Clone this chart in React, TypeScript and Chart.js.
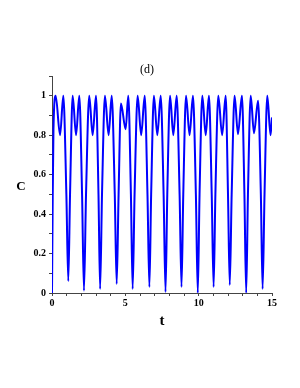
import { useEffect, useRef } from "react";
import { Chart, registerables } from "chart.js";

Chart.register(...registerables);

// Time values (t) and the curve values (C)
const tValues = [
  0, 0.05, 0.1, 0.25, 0.55, 0.77, 0.98, 1.11, 1.23, 1.41, 1.64, 1.86, 2.05, 2.18, 2.32,
  2.54, 2.77, 3.0, 3.17, 3.28, 3.41, 3.61, 3.86, 4.07, 4.28, 4.41, 4.54, 4.7, 5.02, 5.2,
  5.38, 5.5, 5.63, 5.84, 6.08, 6.32, 6.51, 6.64, 6.76, 6.95, 7.18, 7.41, 7.61, 7.74, 7.86,
  8.05, 8.27, 8.5, 8.7, 8.83, 8.95, 9.14, 9.38, 9.61, 9.81, 9.94, 10.06, 10.25, 10.48, 10.7,
  10.89, 11.02, 11.14, 11.34, 11.6, 11.84, 12.0, 12.12, 12.25, 12.45, 12.68, 12.95, 13.12,
  13.24, 13.36, 13.55, 13.77, 14.05, 14.24, 14.36, 14.49, 14.68, 14.9, 15,
];
const cValues = [
  0, 0.5, 0.83, 1.0, 0.8, 1.0, 0.5, 0.06, 0.5, 1.0, 0.8, 1.0, 0.5, 0.012, 0.5,
  1.0, 0.8, 1.0, 0.5, 0.02, 0.5, 1.0, 0.8, 1.0, 0.5, 0.045, 0.5, 0.96, 0.83, 1.0,
  0.5, 0.02, 0.5, 1.0, 0.8, 1.0, 0.5, 0.03, 0.5, 1.0, 0.8, 1.0, 0.5, 0.005, 0.5,
  1.0, 0.8, 1.0, 0.5, 0.03, 0.5, 1.0, 0.8, 1.0, 0.5, 0.0, 0.5, 1.0, 0.8, 1.0,
  0.5, 0.03, 0.5, 1.0, 0.8, 1.0, 0.5, 0.04, 0.5, 1.0, 0.805, 1.0, 0.5,
  0.0, 0.5, 1.0, 0.81, 0.975, 0.5, 0.02, 0.5, 1.0, 0.8, 0.89,
];

const xTickLabels = [0, 5, 10, 15];
const yTickLabels = [0, 0.2, 0.4, 0.6, 0.8, 1];
const titleText = "(d)";
const xAxisLabel = "t";
const yAxisLabel = "C";

const serif = "'Liberation Serif', 'Times New Roman', serif";

export default function App() {
  const ref = useRef<HTMLCanvasElement | null>(null);

  useEffect(() => {
    if (!ref.current) return;
    const points = tValues.map((t, i) => ({ x: t, y: cValues[i] }));

    const labelPlugin = {
      id: "labels",
      afterDraw(chart: any) {
        const { ctx, chartArea } = chart;
        ctx.save();
        ctx.fillStyle = "#000";
        ctx.textAlign = "center";
        ctx.textBaseline = "middle";
        ctx.font = `12px ${serif}`;
        ctx.fillText(titleText, 147, chartArea.top - 6);
        ctx.font = `bold 13px ${serif}`;
        ctx.fillText(yAxisLabel, chartArea.left - 31, (chartArea.top + chartArea.bottom) / 2 + 2);
        ctx.font = `bold 15px ${serif}`;
        ctx.fillText(xAxisLabel, (chartArea.left + chartArea.right) / 2, chartArea.bottom + 28);
        ctx.restore();
      },
    };

    const chart = new Chart(ref.current, {
      type: "line",
      data: {
        datasets: [
          {
            data: points,
            borderColor: "#0000ff",
            borderWidth: 2,
            pointRadius: 0,
            cubicInterpolationMode: "monotone",
            fill: false,
          },
        ],
      },
      options: {
        animation: false,
        responsive: false,
        layout: { padding: { left: 0, top: 76, right: 28, bottom: 65 } },
        plugins: { legend: { display: false }, tooltip: { enabled: false } },
        scales: {
          x: {
            type: "linear",
            min: 0,
            max: 15,
            afterFit: (s: any) => {
              s.height = 30;
            },
            grid: { drawOnChartArea: false, drawTicks: true, tickLength: 3, color: "#444" },
            border: { display: true, color: "#444", width: 1 },
            ticks: {
              stepSize: 1,
              autoSkip: false,
              maxRotation: 0,
              padding: 1,
              color: "#000",
              font: { family: serif, size: 10, weight: "bold" },
              callback: (v: any) =>
                xTickLabels.some((l) => Math.abs(l - Number(v)) < 1e-6) ? String(v) : "",
            },
          },
          y: {
            type: "linear",
            min: 0,
            max: 1.1,
            afterFit: (s: any) => {
              s.width = 52;
            },
            grid: { drawOnChartArea: false, drawTicks: true, tickLength: 3, color: "#444" },
            border: { display: true, color: "#444", width: 1 },
            ticks: {
              stepSize: 0.1,
              autoSkip: false,
              padding: 3,
              color: "#000",
              font: { family: serif, size: 10, weight: "bold" },
              callback: (v: any) => {
                const n = Number(v);
                if (n > 1.05) return "";
                return yTickLabels.some((l) => Math.abs(l - n) < 1e-6)
                  ? String(Number(n.toFixed(1)))
                  : "";
              },
            },
          },
        },
      },
      plugins: [labelPlugin],
    });
    return () => chart.destroy();
  }, []);

  return (
    <div style={{ position: "fixed", left: 0, top: 0, width: 300, height: 388, background: "#fff" }}>
      <canvas ref={ref} width={300} height={388} style={{ width: 300, height: 388 }} />
    </div>
  );
}
